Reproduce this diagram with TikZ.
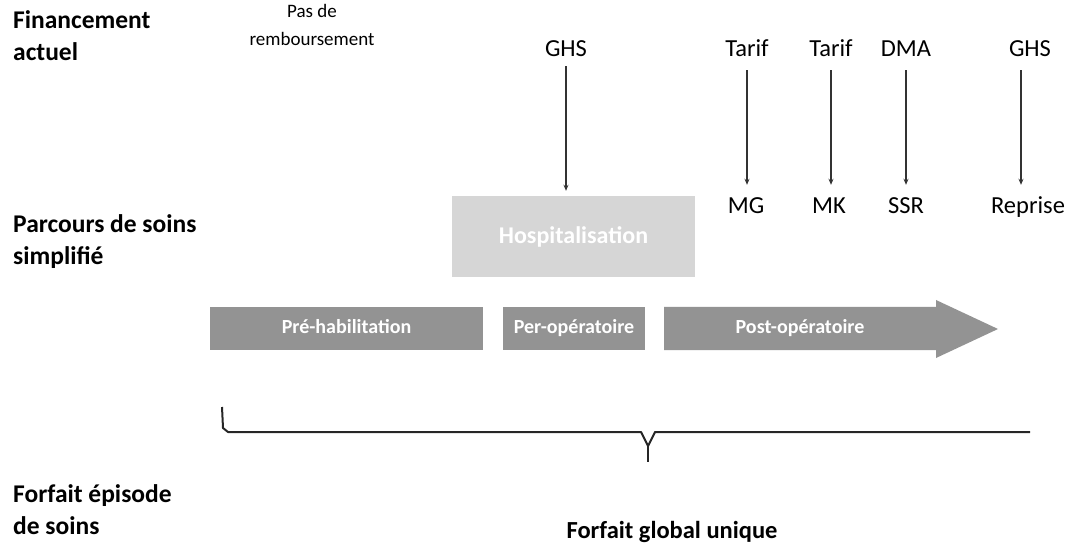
\documentclass[tikz,border=0pt]{standalone}
\usepackage{fontspec}
\setmainfont{Carlito}
\usetikzlibrary{positioning, arrows.meta}
\definecolor{bargrey}{HTML}{939393}
\definecolor{hospgrey}{HTML}{D6D6D6}

\begin{document}
\begin{tikzpicture}[x=1pt, y=-1pt,
  lbl/.style={font=\fontsize{25.5}{32}\selectfont\bfseries, align=left, anchor=north west, inner sep=0pt},
  fin/.style={font=\fontsize{24.5}{29}\selectfont, inner sep=0pt, anchor=base, text height=17pt, text depth=5pt},
  phase/.style={fill=bargrey, text=white, font=\fontsize{20}{24}\selectfont\bfseries, inner sep=0pt,
    text height=14pt, text depth=4pt, minimum height=43pt},
  arr/.style={draw=black!80, line width=1.3pt, -{Stealth[length=6pt, width=5pt]}},
  brace/.style={draw=black!85, line width=2pt, line join=round}]
\useasboundingbox (0,0) rectangle (1071,545);

% row titles
\node[lbl] (finl) at (13,10) {Financement\\actuel};
\node[lbl] (parl) at (13,214) {Parcours de soins\\simplifié};
\node[lbl] (forl) at (13,484) {Forfait épisode\\de soins};

% current funding
\node[font=\fontsize{19}{28}\selectfont, align=center, anchor=north, inner sep=0pt] (pas) at (312,4) {Pas de\\remboursement};
\node[fin] (ghs1) at (566,57) {GHS};
\node[fin] (tarif1) at (747,57) {Tarif};
\node[fin] (tarif2) at (831,57) {Tarif};
\node[fin] (dma) at (906,57) {DMA};
\node[fin] (ghs2) at (1030,57) {GHS};

% care pathway
\node[fill=hospgrey, text=white, font=\fontsize{24}{28}\selectfont\bfseries,
  minimum width=243pt, minimum height=81pt, inner sep=0pt] (hosp) at (573.5,236.5) {Hospitalisation};
\node[fin] (mg) at (746,214) {MG};
\node[fin] (mk) at (829,214) {MK};
\node[fin] (ssr) at (906,214) {SSR};
\node[fin] (rep) at (1028,214) {Reprise};

\draw[arr, shorten <=4pt, shorten >=5pt] (ghs1) -- (ghs1 |- hosp.north);
\draw[arr, shorten <=8pt, shorten >=12pt] (tarif1) -- (tarif1 |- mg.north);
\draw[arr, shorten <=8pt, shorten >=12pt] (tarif2) -- (tarif2 |- mk.north);
\draw[arr, shorten <=8pt, shorten >=12pt] (dma) -- (dma |- ssr.north);
\draw[arr, shorten <=8pt, shorten >=12pt] ([xshift=-9pt]ghs2.south) -- ([xshift=-9pt]ghs2.south |- rep.north);

% phases
\node[phase, minimum width=273pt] (pre) at (346.5,328.5) {Pré-habilitation};
\node[phase, minimum width=142pt] (per) at (574,328.5) {Per-opératoire};
\fill[bargrey] (664,307) -- (936,307) -- (936,300) -- (998,329) -- (936,358) -- (936,350) -- (664,350) -- cycle;
\node[phase, fill=none] (post) at (800,328.5) {Post-opératoire};

% brace
\coordinate (bl) at (222,407);
\coordinate (bm) at (648,462);
\coordinate (br) at (1030,432);
\draw[brace] (bl) -- ++(1,21) -- ++(5,4) -- (641,432) -- (648,446) -- (655,432) -- (br);
\draw[brace] (648,446) -- (bm);

\node[font=\fontsize{24.5}{29}\selectfont\bfseries, anchor=base, inner sep=0pt] (glob) at (672,538) {Forfait global unique};
\end{tikzpicture}
\end{document}
